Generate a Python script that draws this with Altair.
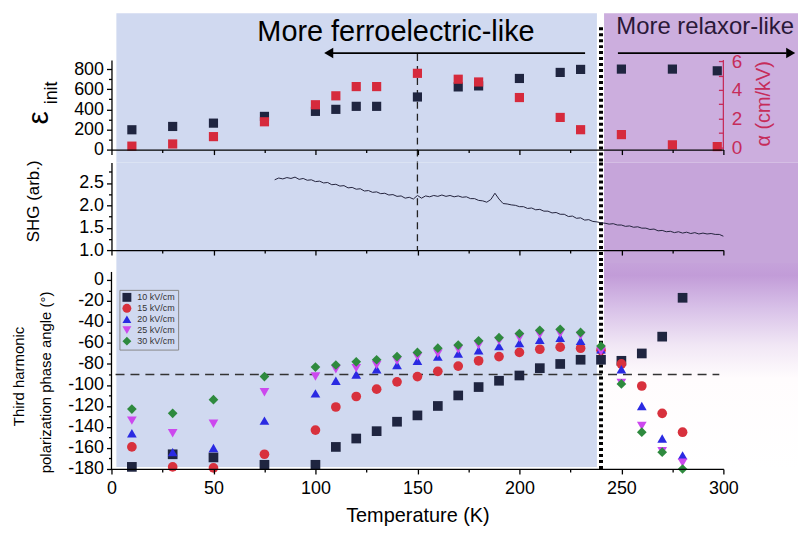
import altair as alt
import pandas as pd

# ---------------- data ----------------
top_temps = [10, 30, 50, 75, 100, 110, 120, 130, 150, 170, 180, 200, 220, 230, 250, 275, 297]
eps_init = [197, 230, 263, 330, 380, 400, 430, 430, 523, 623, 633, 707, 767, 797, 800, 800, 783]
alpha_vals = [0.10, 0.25, 0.76, 1.79, 2.97, 3.59, 4.23, 4.23, 5.15, 4.74, 4.55, 3.47, 2.09, 1.24, 0.90, 0.19, 0.07]

shg_temps = list(range(80, 301, 2))
shg_vals = [
    2.57, 2.61, 2.59, 2.62, 2.60, 2.63, 2.58, 2.60, 2.56, 2.57,
    2.53, 2.54, 2.50, 2.51, 2.46, 2.47, 2.43, 2.44, 2.39, 2.40,
    2.36, 2.37, 2.32, 2.33, 2.29, 2.30, 2.26, 2.27, 2.23, 2.24,
    2.20, 2.21, 2.16, 2.18, 2.14, 2.22, 2.16, 2.21, 2.19, 2.22,
    2.20, 2.23, 2.20, 2.22, 2.19, 2.21, 2.18, 2.19, 2.15, 2.15,
    2.11, 2.10, 2.07, 2.13, 2.27, 2.14, 2.04, 2.03, 2.01, 2.00,
    1.97, 1.97, 1.93, 1.94, 1.90, 1.91, 1.87, 1.87, 1.83, 1.84,
    1.80, 1.80, 1.75, 1.76, 1.71, 1.72, 1.67, 1.68, 1.64, 1.63,
    1.61, 1.60, 1.58, 1.59, 1.56, 1.56, 1.53, 1.54, 1.51, 1.52,
    1.49, 1.49, 1.46, 1.47, 1.43, 1.44, 1.41, 1.42, 1.39, 1.41,
    1.38, 1.40, 1.37, 1.39, 1.36, 1.38, 1.36, 1.37, 1.35, 1.35,
    1.31,
]

phase_temps = [10, 30, 50, 75, 100, 110, 120, 130, 140, 150, 160, 170,
               180, 190, 200, 210, 220, 230, 240, 250, 260, 270, 280]
field_labels = ["10 kV/cm", "15 kV/cm", "20 kV/cm", "25 kV/cm", "30 kV/cm"]
phase_10 = [-178, -166, -169, -176, -176, -159, -151, -144, -135, -129, -120, -110,
            -102, -96, -91, -84, -80, -76, -76, -77, -70, -54, -17]
phase_15 = [-159, -178, -179, -166, -143, -121, -111, -104, -97, -92, -87, -82,
            -77, -73, -69, -66, -64, -65, -67, -80, -101, -127, -145]
phase_20 = [-146, -164, -160, -134, -108, -96, -90, -85, -81, -77, -73, -70,
            -67, -63, -60, -57, -55, -58, -66, -85, -120, -151, -167]
phase_25 = [-134, -146, -137, -107, -92, -85, -84, -81, -77, -73, -70, -66,
            -62, -58, -55, -52, -51, -53, -68, -98, -139, -163, -174]
phase_30 = [-123, -127, -114, -92, -83, -81, -78, -76, -73, -69, -65, -62,
            -58, -55, -51, -48, -47, -50, -63, -99, -145, -164, -180]

field_colors = ["#1f2540", "#d8313d", "#2a2ae2", "#cc48ee", "#2e8a3e"]
field_shapes = ["square", "circle", "triangle-up", "triangle-down", "diamond"]

x_ticks = [0, 25, 50, 75, 100, 125, 150, 175, 200, 225, 250, 275, 300]
eps_ticks = [0, 100, 200, 300, 400, 500, 600, 700, 800]
alpha_ticks = [0, 1, 2, 3, 4, 5, 6]
shg_ticks = [1.0, 1.25, 1.5, 1.75, 2.0, 2.25, 2.5, 2.75]
phase_ticks = [-180, -170, -160, -150, -140, -130, -120, -110, -100, -90, -80, -70,
               -60, -50, -40, -30, -20, -10, 0]
ref_phase = [-90]
phase_axis_span = [-180, 7.6]

top_df = pd.DataFrame({"T": top_temps, "eps": eps_init, "alpha": alpha_vals})
shg_df = pd.DataFrame({"T": shg_temps, "shg": shg_vals})
rows = []
for lab, vals in zip(field_labels, [phase_10, phase_15, phase_20, phase_25, phase_30]):
    for t, v in zip(phase_temps, vals):
        rows.append({"T": t, "phase": v, "field": lab})
phase_df = pd.DataFrame(rows)
ref_df = pd.DataFrame({"phase": ref_phase, "T0": [2], "T1": [298]})
span_df = pd.DataFrame({"T": [0], "lo": [phase_axis_span[0]], "hi": [phase_axis_span[1]]})
one = pd.DataFrame({"k": [0]})

# ---------------- style ----------------
FONT = "Liberation Sans"
W = 615
H1, H2, H3 = 90, 88, 207
GAP = 13
BLUE_BG = "#d0d9f0"
PURPLE_BG = "#ccaede"
PURPLE_BG2 = "#c6a5da"
NAVY = "#1f2540"
RED = "#d62a3c"
CRIMSON = "#c62c5a"
RIGHT_EDGE = 690

XS = alt.Scale(domain=[0, 300], nice=False, zero=False)


def tick_cond(test, major=5, minor=3):
    return {"condition": {"test": test, "value": major}, "value": minor}


def x_axis(show_labels):
    kw = dict(values=x_ticks, tickSize=tick_cond("datum.value % 50 === 0"),
              domainColor="black", tickColor="black", domainWidth=1.3, tickWidth=1.3,
              grid=False, zindex=1)
    if show_labels:
        return alt.Axis(labelExpr="datum.value % 50 === 0 ? datum.label : ''",
                        labelFontSize=18, labelPadding=6, labelFlush=False,
                        labelOverlap=False, labelFont=FONT, labelColor="black",
                        title="Temperature (K)", titleFontSize=20, titleFont=FONT,
                        titleFontWeight="normal", titlePadding=8, titleColor="black", **kw)
    return alt.Axis(labels=False, title=None, **kw)


XA_TOP = x_axis(False)
XA_BOTTOM = x_axis(True)


def xd(v, axis):
    return alt.XDatum(v, scale=XS, axis=axis)


def y_axis(values, expr, test, domain=True):
    return alt.Axis(values=values, labelExpr=expr, tickSize=tick_cond(test),
                    labelFontSize=18, labelFont=FONT, labelColor="black", labelPadding=3,
                    labelOverlap=False, domain=domain, domainColor="black", tickColor="black",
                    domainWidth=1.3, tickWidth=1.3, grid=False, title=None, zindex=1)


def txt(s, x, y, size, color="black", angle=0, align="center", baseline="middle"):
    return alt.Chart(one).mark_text(text=s, font=FONT, fontSize=size, color=color,
                                    angle=angle, align=align, baseline=baseline
                                    ).encode(x=x, y=y)


def backgrounds(top, bottom, dot_top, purple_fill, axis):
    blue = alt.Chart(one).mark_rect(color=BLUE_BG).encode(
        x=xd(2.4, axis), x2=alt.datum(238), y=alt.value(top), y2=alt.value(bottom))
    purple = alt.Chart(one).mark_rect(fill=purple_fill).encode(
        x=xd(241.5, axis), x2=alt.value(RIGHT_EDGE), y=alt.value(top), y2=alt.value(bottom))
    dotted = alt.Chart(one).mark_rule(color="black", strokeWidth=4, strokeDash=[3, 3]).encode(
        x=xd(240, axis), y=alt.value(dot_top), y2=alt.value(bottom))
    return [blue, purple, dotted]


# ---------------- panel 1: eps_init and alpha ----------------
bg1 = backgrounds(-47, H1 + GAP, -33, PURPLE_BG, XA_TOP)
dash1 = alt.Chart(one).mark_rule(color="#222", strokeWidth=1.3, strokeDash=[7, 5]).encode(
    x=xd(150, XA_TOP), y=alt.value(-6), y2=alt.value(H1 + GAP))
eps_layer = alt.Chart(top_df).mark_point(shape="square", filled=True, size=85, opacity=1,
                                         color=NAVY).encode(
    x=alt.X("T:Q", scale=XS, axis=XA_TOP),
    y=alt.Y("eps:Q", scale=alt.Scale(domain=[0, 890], nice=False, zero=False),
            axis=y_axis(eps_ticks, "datum.value % 200 === 0 ? datum.label : ''",
                        "datum.value % 200 === 0")))
alpha_layer = alt.Chart(top_df).mark_point(shape="square", filled=True, size=85, opacity=1,
                                           color=RED).encode(
    x=alt.X("T:Q", scale=XS, axis=XA_TOP),
    y=alt.Y("alpha:Q", scale=alt.Scale(domain=[-0.14, 6.07], nice=False, zero=False),
            axis=alt.Axis(orient="right", values=alpha_ticks,
                          labelExpr="datum.value % 2 === 0 ? datum.label : ''",
                          tickSize=5, offset=-5, domain=False, labelFontSize=19,
                          labelFont=FONT, labelColor=CRIMSON, tickColor=CRIMSON,
                          tickWidth=1.3, labelPadding=8, labelOverlap=False,
                          grid=False, title=None, zindex=1)))
alpha_dom = alt.Chart(one).mark_rule(color=CRIMSON, strokeWidth=1.3).encode(
    x=xd(300, XA_TOP), y=alt.value(0), y2=alt.value(H1))
arrow_l = alt.Chart(one).mark_rule(color="black", strokeWidth=1.8).encode(
    x=xd(232.2, XA_TOP), x2=alt.datum(108), y=alt.value(-7))
head_l = alt.Chart(one).mark_point(shape="triangle-left", filled=True, size=110, opacity=1,
                                   color="black").encode(x=xd(106.5, XA_TOP), y=alt.value(-7))
arrow_r = alt.Chart(one).mark_rule(color="black", strokeWidth=1.8).encode(
    x=xd(248.3, XA_TOP), x2=alt.datum(331), y=alt.value(-7))
head_r = alt.Chart(one).mark_point(shape="triangle-right", filled=True, size=110, opacity=1,
                                   color="black").encode(x=xd(333, XA_TOP), y=alt.value(-7))
t_ferro = txt("More ferroelectric-like", xd(139.5, XA_TOP), alt.value(-19), 29,
              baseline="alphabetic")
t_relax = txt("More relaxor-like", xd(247.5, XA_TOP), alt.value(-26), 24, color="#2a1838",
              align="left", baseline="alphabetic")
t_eps = txt("ε", alt.value(-73), alt.value(58), 30, angle=270)
t_init = txt("init", alt.value(-60), alt.value(33), 18, angle=270)
t_alpha = txt("α (cm/kV)", alt.value(W + 41), alt.value(44), 20, color=CRIMSON, angle=270)

p1 = alt.layer(*bg1, dash1, eps_layer, alpha_layer, alpha_dom, arrow_l, head_l, arrow_r,
               head_r, t_ferro, t_relax, t_eps, t_init, t_alpha
               ).resolve_scale(y="independent").properties(width=W, height=H1)

# ---------------- panel 2: SHG ----------------
bg2 = backgrounds(0, H2 + GAP, 0, PURPLE_BG2, XA_TOP)
dash2 = alt.Chart(one).mark_rule(color="#222", strokeWidth=1.3, strokeDash=[7, 5]).encode(
    x=xd(150, XA_TOP), y=alt.value(0), y2=alt.value(H2))
shg_line = alt.Chart(shg_df).mark_line(color="#23233c", strokeWidth=1).encode(
    x=alt.X("T:Q", scale=XS, axis=XA_TOP),
    y=alt.Y("shg:Q", scale=alt.Scale(domain=[1.0, 2.956], nice=False, zero=False),
            axis=y_axis(shg_ticks,
                        "(datum.value * 4) % 2 === 0 ? format(datum.value, '.1f') : ''",
                        "(datum.value * 4) % 2 === 0")))
t_shg = txt("SHG (arb.)", alt.value(-78), alt.value(39), 17, angle=270)
p2 = alt.layer(*bg2, dash2, shg_line, t_shg).properties(width=W, height=H2)

# ---------------- panel 3: phase angle ----------------
grad = alt.LinearGradient(
    gradient="linear",
    stops=[alt.GradientStop(offset=0, color="#c5a2da"),
           alt.GradientStop(offset=0.06, color="#c29cd8"),
           alt.GradientStop(offset=0.22, color="#d8c1e8"),
           alt.GradientStop(offset=0.40, color="#f1e7f5"),
           alt.GradientStop(offset=0.56, color="#fffcfd"),
           alt.GradientStop(offset=1, color="#ffffff")],
    x1=0, x2=0, y1=0, y2=1)
PS = alt.Scale(domain=[-180, 16.1], nice=False, zero=False)
blue3 = alt.Chart(one).mark_rect(color=BLUE_BG).encode(
    x=xd(2.4, XA_BOTTOM), x2=alt.datum(238), y=alt.value(0), y2=alt.value(H3 - 2))
purple3 = alt.Chart(one).mark_rect(fill=grad).encode(
    x=xd(241.5, XA_BOTTOM), x2=alt.value(RIGHT_EDGE), y=alt.value(0), y2=alt.value(H3))
dot3 = alt.Chart(one).mark_rule(color="black", strokeWidth=4, strokeDash=[3, 3]).encode(
    x=xd(240, XA_BOTTOM), y=alt.value(0), y2=alt.value(H3))
Y3_AXIS = y_axis(phase_ticks, "datum.value % 20 === 0 ? '' + datum.value : ''",
                 "datum.value % 20 === 0", domain=False)
hline = alt.Chart(ref_df).mark_rule(color="#333", strokeWidth=1.5, strokeDash=[9, 6]).encode(
    x=alt.X("T0:Q", scale=XS, axis=XA_BOTTOM), x2="T1:Q",
    y=alt.Y("phase:Q", scale=PS, axis=Y3_AXIS))
yline3 = alt.Chart(span_df).mark_rule(color="black", strokeWidth=1.3).encode(
    x=alt.X("T:Q", scale=XS, axis=XA_BOTTOM),
    y=alt.Y("lo:Q", scale=PS, axis=Y3_AXIS), y2="hi:Q")
LEG = alt.Legend(orient="none", legendX=8, legendY=27, title=None, labelFontSize=9,
                 labelFont=FONT, labelColor="#333", symbolSize=80, symbolStrokeWidth=0,
                 strokeColor="#888", padding=3, rowPadding=1, labelOffset=6)
pts = alt.Chart(phase_df).mark_point(filled=True, size=95, opacity=1).encode(
    x=alt.X("T:Q", scale=XS, axis=XA_BOTTOM),
    y=alt.Y("phase:Q", scale=PS, axis=Y3_AXIS),
    color=alt.Color("field:N", scale=alt.Scale(domain=field_labels, range=field_colors),
                    legend=LEG),
    shape=alt.Shape("field:N", scale=alt.Scale(domain=field_labels, range=field_shapes),
                    legend=LEG))
t_th1 = txt("Third harmonic", alt.value(-93), alt.value(114), 15, angle=270)
t_th2 = txt("polarization phase angle (°)", alt.value(-66), alt.value(120), 15, angle=270)
p3 = alt.layer(blue3, purple3, dot3, hline, pts, yline3, t_th1, t_th2).properties(
    width=W, height=H3)

chart = alt.vconcat(p1, p2, p3, spacing=GAP, bounds="flush").resolve_legend(
    color="independent", shape="independent"
).properties(
    padding={"left": 4, "top": 4, "right": 0, "bottom": 0}
).configure_view(stroke=None)

chart.save("out.html", embed_options={"renderer": "svg", "actions": False})
